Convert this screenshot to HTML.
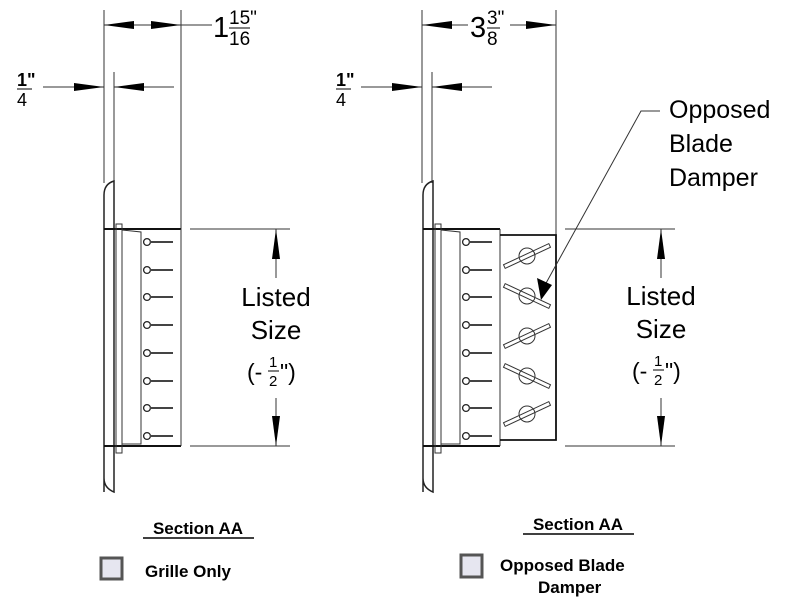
<!DOCTYPE html>
<html><head><style>html,body{margin:0;padding:0;background:#fff}svg{display:block}text{font-family:"Liberation Sans",sans-serif;fill:#000}</style></head>
<body>
<svg width="800" height="600" viewBox="0 0 800 600" xmlns="http://www.w3.org/2000/svg">
<defs>
<g id="pin"><circle cx="0" cy="0" r="3.4" fill="#fff" stroke="#222" stroke-width="1.3"/><line x1="3" y1="0" x2="26" y2="0" stroke="#444" stroke-width="2"/></g>
<g id="blade"><circle cx="0" cy="0" r="8" fill="none" stroke="#333" stroke-width="1"/><g transform="rotate(-25)"><rect x="-25" y="-2" width="50" height="4" fill="none" stroke="#333" stroke-width="1"/></g></g>
</defs>
<g stroke="#333" stroke-width="1" fill="none">
<line x1="104" y1="10" x2="104" y2="183"/>
<line x1="181" y1="10" x2="181" y2="229"/>
<line x1="114" y1="72" x2="114" y2="183"/>
<line x1="104" y1="25" x2="212" y2="25"/>
<line x1="43" y1="87" x2="104" y2="87"/>
<line x1="114" y1="87" x2="174" y2="87"/>
<path d="M104,492 L104,195 Q104,184 114,181 L114,492 Q104,488 104,478" stroke="#222" stroke-width="1.5"/>
<line x1="104" y1="229" x2="181" y2="229" stroke="#111" stroke-width="2"/>
<line x1="104" y1="446" x2="181" y2="446" stroke="#111" stroke-width="2"/>
<rect x="116" y="224" width="6" height="229"/>
<path d="M122,230 L141,232 L141,444 L122,444"/>
<line x1="181" y1="229" x2="181" y2="446"/>
<line x1="190" y1="229" x2="290" y2="229"/>
<line x1="190" y1="446" x2="290" y2="446"/>
<line x1="276" y1="229" x2="276" y2="278"/>
<line x1="276" y1="398" x2="276" y2="446"/>
<line x1="422" y1="10" x2="422" y2="183"/>
<line x1="556" y1="10" x2="556" y2="235"/>
<line x1="432" y1="72" x2="432" y2="183"/>
<line x1="422" y1="25" x2="468" y2="25"/>
<line x1="510" y1="25" x2="556" y2="25"/>
<line x1="361" y1="87" x2="422" y2="87"/>
<line x1="432" y1="87" x2="492" y2="87"/>
<path d="M423,492 L423,195 Q423,184 433,181 L433,492 Q423,488 423,478" stroke="#222" stroke-width="1.5"/>
<line x1="423" y1="229" x2="500" y2="229" stroke="#111" stroke-width="2"/>
<line x1="423" y1="446" x2="500" y2="446" stroke="#111" stroke-width="2"/>
<rect x="435" y="224" width="6" height="229"/>
<path d="M441,230 L460,232 L460,444 L441,444"/>
<path d="M500,229 L500,446" />
<path d="M500,235 L556,235 L556,440 L500,440" stroke="#111" stroke-width="1.8"/>
<line x1="565" y1="229" x2="675" y2="229"/>
<line x1="565" y1="446" x2="675" y2="446"/>
<line x1="661" y1="229" x2="661" y2="278"/>
<line x1="661" y1="398" x2="661" y2="446"/>
<path d="M660,111 L641,111 L545,285"/>
</g>
<g fill="#000">
<path d="M104,25 L134,21 L134,29z"/><path d="M181,25 L151,21 L151,29z"/>
<path d="M104,87 L74,83 L74,91z"/><path d="M114,87 L144,83 L144,91z"/>
<path d="M422,25 L452,21 L452,29z"/><path d="M556,25 L526,21 L526,29z"/>
<path d="M422,87 L392,83 L392,91z"/><path d="M432,87 L462,83 L462,91z"/>
<path d="M276,229 L272,259 L280,259z"/><path d="M276,446 L272,416 L280,416z"/>
<path d="M661,229 L657,259 L665,259z"/><path d="M661,446 L657,416 L665,416z"/>
<path d="M541,300 L537,278 L552,285 z"/>
</g>
<g>
<use href="#pin" x="147" y="242"/><use href="#pin" x="147" y="270"/><use href="#pin" x="147" y="297"/><use href="#pin" x="147" y="325"/><use href="#pin" x="147" y="353"/><use href="#pin" x="147" y="381"/><use href="#pin" x="147" y="408"/><use href="#pin" x="147" y="436"/>
<use href="#pin" x="466" y="242"/><use href="#pin" x="466" y="270"/><use href="#pin" x="466" y="297"/><use href="#pin" x="466" y="325"/><use href="#pin" x="466" y="353"/><use href="#pin" x="466" y="381"/><use href="#pin" x="466" y="408"/><use href="#pin" x="466" y="436"/>
<use href="#blade" x="527" y="256"/>
<g transform="translate(527 296) scale(-1 1)"><use href="#blade"/></g>
<use href="#blade" x="527" y="336"/>
<g transform="translate(527 376) scale(-1 1)"><use href="#blade"/></g>
<use href="#blade" x="527" y="414"/>
</g>
<text x="213" y="37" font-size="29">1</text>
<text x="229" y="24" font-size="19">15"</text>
<line x1="229" y1="28" x2="250" y2="28" stroke="#000" stroke-width="1"/>
<text x="229" y="45" font-size="19">16</text>
<text x="17" y="86" font-size="18" font-weight="bold">1"</text>
<line x1="17" y1="89" x2="32" y2="89" stroke="#000"/>
<text x="17" y="106" font-size="18">4</text>
<text x="336" y="86" font-size="18" font-weight="bold">1"</text>
<line x1="336" y1="89" x2="351" y2="89" stroke="#000"/>
<text x="336" y="106" font-size="18">4</text>
<text x="470" y="37" font-size="29">3</text>
<text x="487" y="24" font-size="19">3"</text>
<line x1="487" y1="28" x2="500" y2="28" stroke="#000"/>
<text x="487" y="45" font-size="19">8</text>
<g font-size="26" text-anchor="middle">
<text x="276" y="306">Listed</text><text x="276" y="339">Size</text>
<text x="661" y="305">Listed</text><text x="661" y="338">Size</text>
</g>
<text x="247" y="380" font-size="23">(-</text><text x="280" y="380" font-size="23">")</text>
<text x="269" y="367" font-size="15">1</text><line x1="268" y1="371" x2="279" y2="371" stroke="#000"/><text x="269" y="386" font-size="15">2</text>
<text x="632" y="379" font-size="23">(-</text><text x="665" y="379" font-size="23">")</text>
<text x="654" y="366" font-size="15">1</text><line x1="653" y1="370" x2="664" y2="370" stroke="#000"/><text x="654" y="385" font-size="15">2</text>
<g font-size="25"><text x="669" y="118">Opposed</text><text x="669" y="152">Blade</text><text x="669" y="186">Damper</text></g>
<g font-size="17" font-weight="bold">
<text x="198" y="534" text-anchor="middle">Section AA</text>
<line x1="143" y1="538" x2="254" y2="538" stroke="#000" stroke-width="1.5"/>
<text x="145" y="577">Grille Only</text>
<text x="578" y="530" text-anchor="middle">Section AA</text>
<line x1="523" y1="534" x2="634" y2="534" stroke="#000" stroke-width="1.5"/>
<text x="500" y="571">Opposed Blade</text>
<text x="538" y="593">Damper</text>
</g>
<rect x="101" y="558" width="21" height="21" fill="#e6e6f0" stroke="#555" stroke-width="3"/>
<rect x="461" y="555" width="21" height="22" fill="#e6e6f0" stroke="#555" stroke-width="3"/>
</svg>
</body></html>
